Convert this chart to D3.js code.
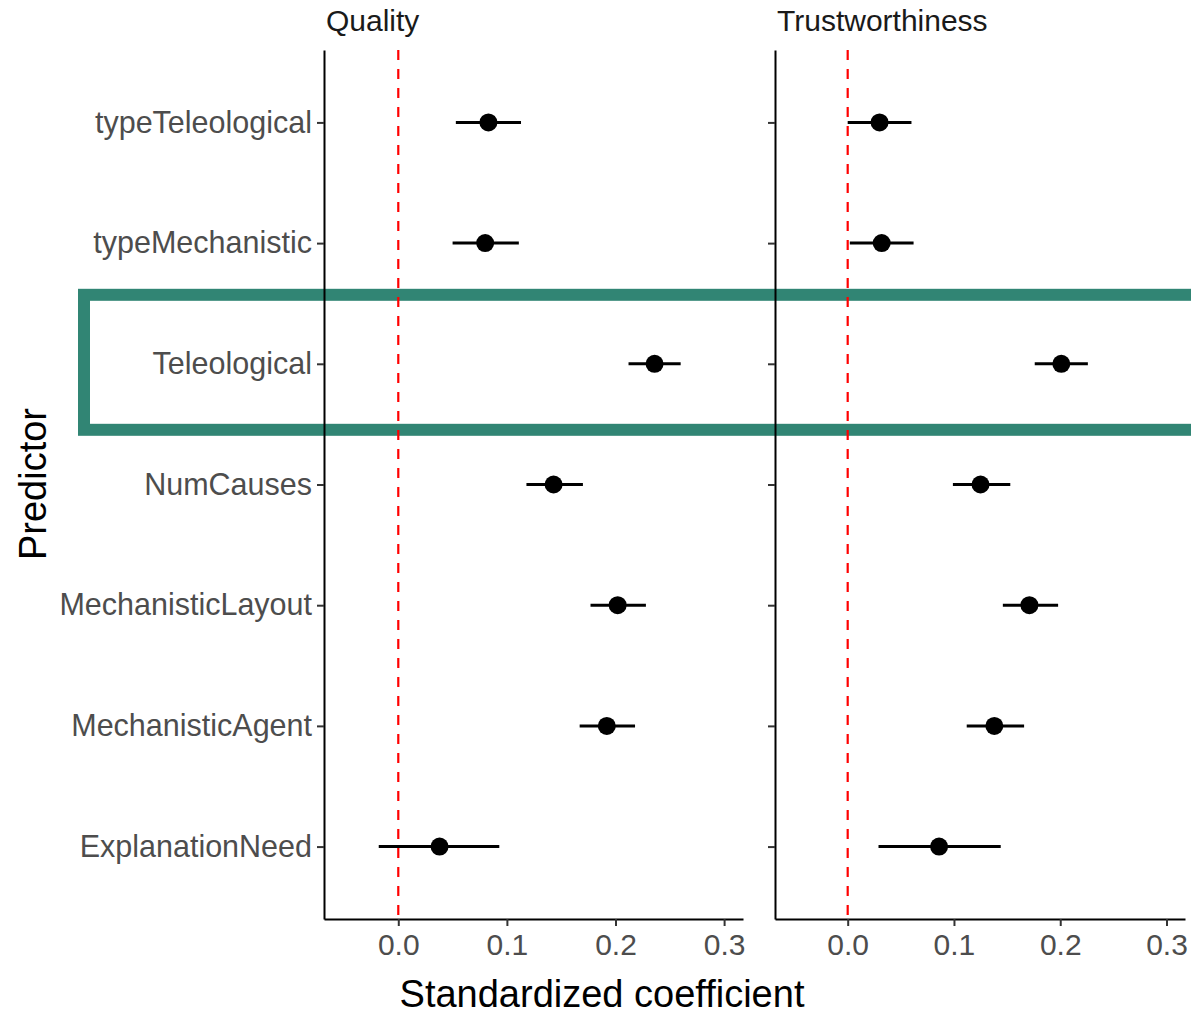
<!DOCTYPE html>
<html>
<head>
<meta charset="utf-8">
<script src="https://cdn.jsdelivr.net/npm/d3@7"></script>
<style>
  body { margin: 0; background: #fff; }
  text { font-family: "Liberation Sans", Arial, sans-serif; }
</style>
</head>
<body>
<script>
// Predictors, top to bottom.
var predictors = ["typeTeleological", "typeMechanistic", "Teleological", "NumCauses",
    "MechanisticLayout", "MechanisticAgent", "ExplanationNeed"];

// Estimates and confidence limits.
var qualityEst = [0.083, 0.080, 0.236, 0.143, 0.202, 0.192, 0.038];
var qualityLo  = [0.053, 0.050, 0.212, 0.118, 0.177, 0.167, -0.018];
var qualityHi  = [0.113, 0.111, 0.260, 0.170, 0.228, 0.218, 0.093];

var trustEst = [0.030, 0.032, 0.201, 0.125, 0.171, 0.138, 0.086];
var trustLo  = [0.000, 0.002, 0.176, 0.099, 0.146, 0.112, 0.029];
var trustHi  = [0.060, 0.062, 0.226, 0.153, 0.198, 0.166, 0.144];

var xTicks = [0.0, 0.1, 0.2, 0.3];

var width = 1191, height = 1015;
var plotTop = 50, plotBottom = 919;

var svg = d3.select("body").append("svg")
    .attr("width", width)
    .attr("height", height);

var y = d3.scalePoint()
    .domain(predictors)
    .range([plotTop, plotBottom])
    .padding(0.6);

// Highlight box round the Teleological row (drawn under the axes).
svg.append("rect")
    .attr("x", 84)
    .attr("y", y("Teleological") - 69)
    .attr("width", 1130)
    .attr("height", 135)
    .attr("fill", "none")
    .attr("stroke", "#318574")
    .attr("stroke-width", 12);

var panels = [
    { title: "Quality", left: 324, right: 743, est: qualityEst, lo: qualityLo, hi: qualityHi, labels: true },
    { title: "Trustworthiness", left: 775, right: 1185, est: trustEst, lo: trustLo, hi: trustHi, labels: false }
];

panels.forEach(function(p) {
    var x = d3.scaleLinear()
        .domain([-0.0684, 0.3174])
        .range([p.left, p.right]);

    var g = svg.append("g");

    // Reference line at zero.
    g.append("line")
        .attr("x1", x(0)).attr("x2", x(0))
        .attr("y1", plotTop).attr("y2", plotBottom)
        .attr("stroke", "#ff0000")
        .attr("stroke-width", 2.2)
        .attr("stroke-dasharray", "10,9");

    // Confidence intervals.
    g.selectAll("line.ci")
        .data(predictors)
        .join("line")
        .attr("class", "ci")
        .attr("x1", (d, i) => x(p.lo[i]))
        .attr("x2", (d, i) => x(p.hi[i]))
        .attr("y1", d => y(d))
        .attr("y2", d => y(d))
        .attr("stroke", "#000")
        .attr("stroke-width", 3);

    // Point estimates.
    g.selectAll("circle")
        .data(predictors)
        .join("circle")
        .attr("cx", (d, i) => x(p.est[i]))
        .attr("cy", d => y(d))
        .attr("r", 9)
        .attr("fill", "#000");

    // X axis.
    var xAxis = g.append("g")
        .attr("transform", "translate(0," + plotBottom + ")")
        .call(d3.axisBottom(x).tickValues(xTicks).tickFormat(d3.format(".1f"))
            .tickSizeOuter(0).tickSizeInner(7).tickPadding(5));
    xAxis.select(".domain").attr("stroke", "#000").attr("stroke-width", 2);
    xAxis.selectAll(".tick line").attr("stroke", "#333").attr("stroke-width", 2);
    xAxis.selectAll(".tick text")
        .attr("fill", "#4d4d4d")
        .style("font-size", "30px")
        .attr("dy", "0.8em");

    // Y axis.
    var yAxis = g.append("g")
        .attr("transform", "translate(" + p.left + ",0)")
        .call(d3.axisLeft(y).tickSizeOuter(0).tickSizeInner(7).tickPadding(5)
            .tickFormat(p.labels ? null : ""));
    yAxis.select(".domain").attr("stroke", "#000").attr("stroke-width", 2);
    yAxis.selectAll(".tick line").attr("stroke", "#333").attr("stroke-width", 2);
    yAxis.selectAll(".tick text")
        .attr("fill", "#4d4d4d")
        .style("font-size", "30.5px");

    // Facet title.
    svg.append("text")
        .attr("x", p.left + 2)
        .attr("y", 31)
        .style("font-size", "30px")
        .attr("fill", "#1a1a1a")
        .text(p.title);
});

// Axis titles.
svg.append("text")
    .attr("x", 602)
    .attr("y", 1007)
    .attr("text-anchor", "middle")
    .style("font-size", "38px")
    .attr("fill", "#000")
    .text("Standardized coefficient");

svg.append("text")
    .attr("transform", "translate(46,484) rotate(-90)")
    .attr("text-anchor", "middle")
    .style("font-size", "38px")
    .attr("fill", "#000")
    .text("Predictor");
</script>
</body>
</html>
